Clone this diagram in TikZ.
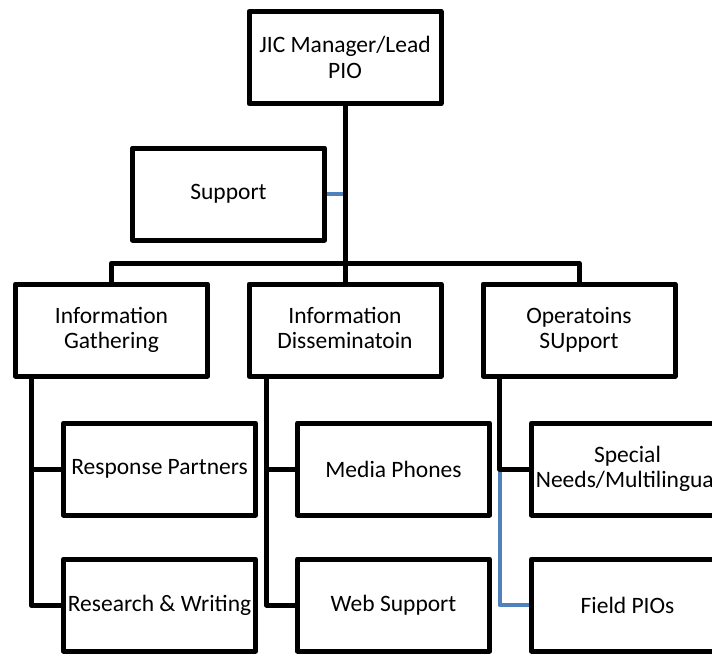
\documentclass[tikz,border=0pt]{standalone}
\usepackage{fontspec}
\setmainfont{Carlito}
\usetikzlibrary{positioning}
\definecolor{linkblue}{RGB}{79,129,189}
\begin{document}
\begin{tikzpicture}[x=1pt, y=-1pt, line width=5pt,
  box/.style={draw, line join=round, minimum width=192pt, minimum height=92pt,
    inner sep=0pt, align=center, font=\fontsize{23.5}{25.5}\selectfont},
  bluelink/.style={linkblue, line width=4pt}]

\clip (0,0) rectangle (712,654);

% Vertice
\node[box] (lead) at (345,57.5) {JIC Manager/Lead\\PIO};
\node[box] (support) at (228.5,194) {Support};

% Sezioni
\node[box] (gather) at (111.5,330) {Information\\Gathering};
\node[box] (dissem) at (345,330) {Information\\Disseminatoin\vphantom{g}};
\node[box] (ops) at (579,330) {Operatoins\\SUpport};

% Unita
\node[box] (partners) at (159.5,469) {Response Partners};
\node[box] (research) at (159.5,605) {Research \& Writing};
\node[box] (media) at (393.5,469) {Media Phones};
\node[box] (web) at (393.5,605) {Web Support};
\node[box] (special) at (627.5,469) {Special\\Needs/Multilingual};
\node[box] (field) at (627.5,605) {Field PIOs};

% Collegamenti principali
\coordinate (bar) at (345,263);
\draw[bluelink] (support.east) -- (support.east -| lead.south);
\draw (lead.south) -- (dissem.north);
\draw[line join=round] (gather.north) |- (bar) -| (ops.north);

% Rami verso le unita
\coordinate (gspine) at ([xshift=18pt]gather.south west);
\coordinate (dspine) at ([xshift=20pt]dissem.south west);
\coordinate (ospine) at ([xshift=19pt]ops.south west);
\draw[bluelink, line join=round] (ospine |- special.west) |- (field.west);
\draw[line join=round] (gspine) |- (partners.west);
\draw[line join=round] (gspine) |- (research.west);
\draw[line join=round] (dspine) |- (media.west);
\draw[line join=round] (dspine) |- (web.west);
\draw[line join=round] (ospine) |- (special.west);

\end{tikzpicture}
\end{document}
